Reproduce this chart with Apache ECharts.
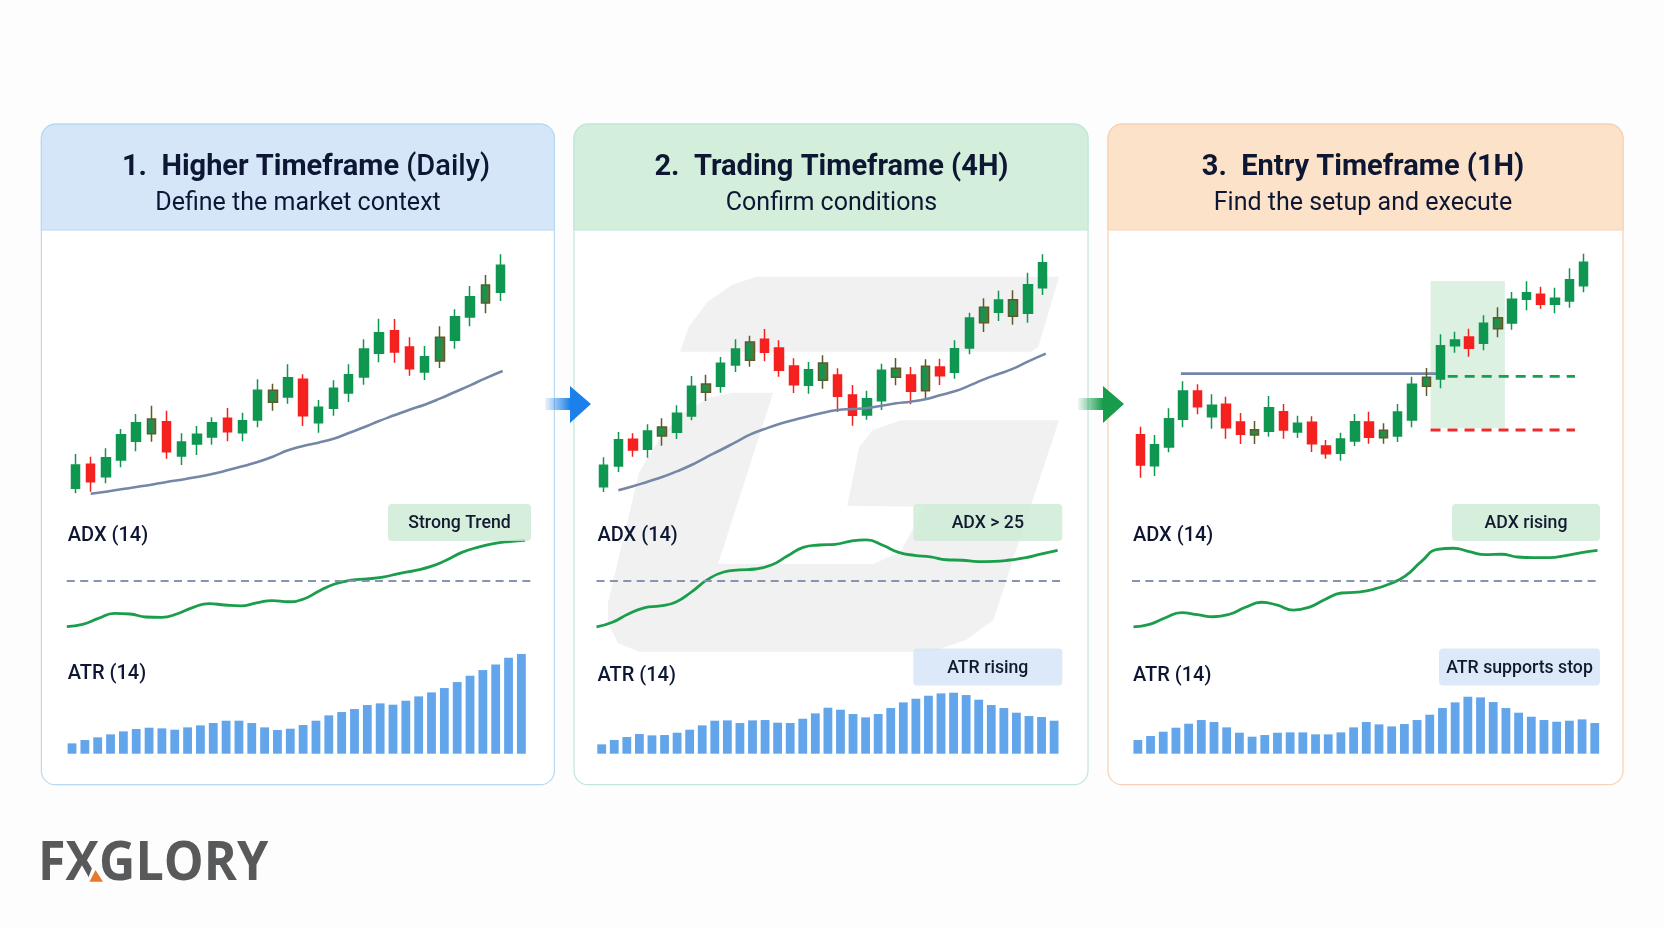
<!DOCTYPE html>
<html>
<head>
<meta charset="utf-8">
<title>Timeframes</title>
<style>
html, body { margin: 0; padding: 0; background: #fdfdfd; }
#main { width: 1664px; height: 928px; }
</style>
<script src="https://cdn.jsdelivr.net/npm/echarts@6/dist/echarts.min.js"></script>
</head>
<body>
<div id="main"></div>
<script>
// candles are [open, close, low, high]
const candles1 = [[6.5,13.5,5.0,16.8],[13.7,8.5,5.5,16.0],[10.0,15.7,8.0,18.5],[15.0,22.6,12.8,24.3],[20.6,26.2,17.6,28.8],[22.9,27.3,20.5,31.3],[26.5,17.5,15.4,29.8],[16.2,20.4,13.5,23.0],[19.8,22.7,16.5,25.2],[21.9,26.2,19.6,27.8],[27.5,23.5,20.6,30.6],[23.2,26.8,20.6,29.2],[27.0,35.9,24.8,39.2],[35.9,32.3,29.8,37.9],[33.9,39.7,31.9,43.7],[39.2,28.3,25.2,40.7],[26.2,30.8,23.2,33.0],[30.5,36.5,28.3,38.9],[35.1,40.6,32.4,43.7],[39.9,48.3,37.6,51.2],[47.0,53.2,44.3,57.4],[53.8,47.4,44.2,57.3],[48.9,42.4,40.3,51.8],[41.4,46.0,39.0,49.2],[51.8,44.7,42.6,55.1],[50.9,58.0,48.4,60.2],[57.9,64.0,55.1,67.2],[62.1,67.5,59.0,70.5],[65.3,73.4,62.7,76.7]];
const candles2 = [[7.0,13.4,5.4,15.8],[13.2,21.1,11.4,23.4],[21.2,18.0,16.0,23.0],[18.2,23.7,15.7,25.7],[24.9,22.2,19.3,27.5],[23.3,29.0,21.3,31.4],[28.2,37.1,26.9,40.2],[37.8,35.3,32.7,40.6],[37.1,44.0,35.2,45.9],[43.5,48.3,41.4,51.2],[44.9,50.4,43.0,52.3],[51.2,47.3,44.6,54.3],[48.6,41.9,40.0,50.9],[43.2,37.6,35.1,45.5],[37.4,42.1,34.9,44.4],[44.1,38.9,36.4,46.4],[40.5,34.1,29.4,42.5],[34.5,28.4,25.3,37.5],[28.5,33.4,27.1,35.8],[32.8,41.9,30.0,43.9],[39.8,42.5,37.4,45.6],[40.5,35.6,31.7,42.9],[35.8,43.1,33.1,45.2],[42.9,40.3,37.5,45.4],[41.3,48.4,39.4,50.9],[48.6,57.6,46.7,59.2],[56.2,60.8,53.4,63.5],[59.3,63.0,56.7,65.8],[63.1,58.1,55.6,65.9],[59.0,67.6,56.2,71.2],[66.7,74.2,64.5,76.7]];
const candles3 = [[22.6,13.5,9.7,25.0],[13.3,19.6,10.2,22.5],[18.9,27.4,17.3,30.5],[27.2,35.7,24.8,38.6],[35.7,31.0,28.7,37.7],[28.0,31.4,24.4,34.7],[31.7,24.7,21.4,34.0],[26.4,22.7,19.8,29.1],[22.5,24.1,19.8,26.7],[23.6,30.7,22.0,34.2],[29.5,24.0,21.4,31.8],[23.4,26.0,21.6,28.3],[26.3,19.9,17.4,28.1],[19.2,16.9,15.4,21.0],[17.0,21.3,14.8,23.2],[20.7,26.5,19.2,28.8],[26.4,21.8,19.9,29.5],[23.9,21.7,19.9,26.0],[22.2,29.4,20.4,31.8],[27.0,37.7,24.8,40.0],[37.1,39.8,34.2,42.6],[39.3,49.3,36.5,52.7],[49.3,51.0,47.2,53.5],[51.9,48.5,46.0,54.4],[50.0,56.0,47.9,58.4],[54.4,57.7,51.8,60.8],[56.1,63.2,54.1,65.4],[63.2,65.2,59.9,68.6],[64.7,61.7,60.4,67.0],[61.7,63.5,59.0,66.7],[62.7,69.1,60.7,72.5],[67.3,74.3,65.3,76.9]];

// candles where red and green run together in the picture
const mixed1 = [5, 13, 24, 27];
const mixed2 = [4, 7, 10, 15, 20, 22, 26, 28];
const mixed3 = [8, 17, 20, 25];

// moving average, the line runs a little past the last candle
const avg1 = [null,4.9,5.5,6.2,6.9,7.6,8.4,9.1,9.9,10.8,11.9,13.1,14.4,16.0,17.9,19.2,20.2,21.4,23.1,24.8,26.7,28.4,30.1,31.6,33.4,35.4,37.4,39.5,41.7];
const avg2 = [null,5.9,7.1,8.5,9.9,11.6,13.5,15.8,18.0,20.3,22.6,24.3,25.8,27.0,28.1,29.2,30.0,30.3,30.6,31.3,32.0,32.5,33.2,34.4,35.6,37.3,39.2,40.8,42.4,44.5,46.9];
const avgEnd1 = 28.14;
const avgEnd2 = 30.23;

const adx1 = [5.2,6.2,8.8,11.0,10.7,9.4,9.2,10.8,13.6,15.2,14.6,14.2,15.5,16.5,16.0,17.2,20.8,23.8,25.4,25.9,26.7,28.2,29.5,31.2,34.0,37.4,39.6,41.2,42.1,42.6];
const adx2 = [5.1,7.1,10.7,13.4,14.2,15.9,20.4,25.7,28.9,29.8,30.2,31.9,35.8,39.6,40.6,40.9,42.3,42.8,40.5,37.4,36.1,35.5,34.2,34.0,33.4,33.5,34.1,35.1,36.8,38.3];
const adx3 = [5.1,6.2,9.1,11.3,10.4,9.5,10.6,13.6,15.8,14.5,12.4,13.7,17.1,19.8,20.2,21.4,23.7,27.2,33.5,38.7,39.2,37.7,36.4,36.6,35.4,35.1,35.1,36.0,37.3,38.3];
const adxLevel = 25;

const atr1 = [3.1,4.1,4.9,5.8,6.7,7.4,7.8,7.6,7.2,7.9,8.5,9.2,9.9,9.9,9.2,7.9,7.1,7.5,8.6,9.9,11.5,12.5,13.4,14.6,15.1,14.7,15.9,17.2,18.4,19.7,21.5,23.4,25.1,26.8,28.8,29.9];
const atr2 = [2.8,4.1,5.0,5.9,5.5,5.6,6.3,7.2,8.5,9.9,10.0,9.2,10.0,10.1,9.3,9.2,10.5,12.1,13.8,13.2,11.9,10.9,11.9,13.7,15.4,16.5,17.4,18.1,18.3,17.6,16.2,14.6,13.7,12.3,11.3,11.0,9.9];
const atr3 = [4.1,5.3,6.6,7.8,9.0,10.1,9.5,7.9,6.3,5.1,5.6,6.3,6.4,6.4,5.8,5.8,6.4,7.9,9.5,8.8,8.2,8.9,10.1,11.7,13.7,15.4,17.1,16.9,15.5,13.7,12.3,11.1,10.1,9.6,9.9,10.3,9.2];

// levels on the entry chart, x in candle positions
const breakoutX = [2.84, 20.8];
const breakoutY = 40.9;
const entryX = [21.5, 30.4];
const entryY = 40.1;
const stopX = [20.3, 30.4];
const stopY = 24.0;
const zoneX = [20.3, 25.5];
const zoneY = [24.5, 68.7];

const titles = [['1.  Higher Timeframe ', '(Daily)'], ['2.  Trading Timeframe (4H)', ''], ['3.  Entry Timeframe (1H)', '']];
const subtitles = ['Define the market context', 'Confirm conditions', 'Find the setup and execute'];
const adxTags = ['Strong Trend', 'ADX > 25', 'ADX rising'];
const atrTags = ['', 'ATR rising', 'ATR supports stop'];

const FONT = 'Roboto, Inter, sans-serif';
const GREEN = '#0f9650', RED = '#f4211f';
const INK = '#0d1733';

const panels = [
    { x: 41.4, w: 513, head: '#d5e6f9', line: '#b9d8f3', titleX: 306, subX: 298,
      candle: [67.9, 440.2], adx: [66.8, 463.5, 0, 29.33], atr: [65.6, 462.2], atrLabelY: 673.5,
      adxTag: [388, 143], atrTag: null },
    { x: 574, w: 514, head: '#d3eedb', line: '#c2e6da', titleX: 831.5, subX: 831.5,
      candle: [596.4, 453.3], adx: [596.5, 465.9, 0, 29.3], atr: [595.4, 465], atrLabelY: 675.5,
      adxTag: [913.3, 149], atrTag: [913.3, 149] },
    { x: 1108, w: 515, head: '#fbe2c9', line: '#f9d1b2', titleX: 1363, subX: 1363,
      candle: [1133.1, 457.6], adx: [1132, 469, -0.09, 29.22], atr: [1131.5, 469.6], atrLabelY: 675.5,
      adxTag: [1452, 148], atrTag: [1439, 161] }
];

const PANEL_TOP = 124.2, PANEL_BOTTOM = 784.7, HEAD_BOTTOM = 230;
const CANDLE_TOP = 230, CANDLE_H = 280;
const ADX_TOP = 523.3, ADX_H = 115.4;
const ATR_TOP = 640.4, ATR_H = 113.3;

function indexLabels(list) {
    return list.map(function (v, i) { return i; });
}

function paintCandles(list, mixed) {
    return list.map(function (c, i) {
        if (mixed.indexOf(i) < 0) return c;
        return {
            value: c,
            itemStyle: {
                color: { type: 'linear', x: 0, y: 0, x2: 1, y2: 0, colorStops: [
                    { offset: 0, color: GREEN },
                    { offset: 0.45, color: GREEN },
                    { offset: 1, color: '#7d6a2c' }] },
                color0: { type: 'linear', x: 0, y: 0, x2: 1, y2: 0, colorStops: [
                    { offset: 0, color: RED },
                    { offset: 0.45, color: RED },
                    { offset: 1, color: '#7f4a28' }] },
                borderColor: '#5e5a2c',
                borderColor0: '#6b4a2a'
            }
        };
    });
}

let grids = [], xAxes = [], yAxes = [], series = [];

function addGrid(left, width, top, height, xAxis, yMax) {
    let g = grids.length;
    grids.push({ left: left, width: width, top: top, height: height, containLabel: false });
    xAxis.gridIndex = g;
    xAxes.push(xAxis);
    yAxes.push({ type: 'value', gridIndex: g, min: 0, max: yMax, show: false });
    return { x: xAxes.length - 1, y: yAxes.length - 1 };
}

function candleChart(p, list, mixed, avg, avgEnd) {
    let ax = addGrid(p.candle[0], p.candle[1], CANDLE_TOP, CANDLE_H,
        { type: 'category', data: indexLabels(list), show: false }, 84);
    // hidden value axis on the same grid, lines can sit between candles on it
    xAxes.push({ type: 'value', gridIndex: grids.length - 1, min: -0.5, max: list.length - 0.5, show: false });
    ax.level = xAxes.length - 1;
    series.push({
        type: 'candlestick', xAxisIndex: ax.x, yAxisIndex: ax.y, z: 3,
        barWidth: 9, data: paintCandles(list, mixed), silent: true,
        itemStyle: { color: GREEN, color0: RED, borderColor: GREEN, borderColor0: RED, borderWidth: 1.5 }
    });
    if (avg) {
        series.push({
            type: 'line', xAxisIndex: ax.level, yAxisIndex: ax.y, z: 4, smooth: true, showSymbol: false, silent: true,
            data: avg.map(function (v, i) { return [i === avg.length - 1 ? avgEnd : i, v]; }),
            lineStyle: { color: '#7586a6', width: 2.6 }
        });
    }
    return ax;
}

function adxChart(p, data) {
    let ax = addGrid(p.adx[0], p.adx[1], ADX_TOP, ADX_H, {
        type: 'value', min: p.adx[2], max: p.adx[3],
        axisLine: { show: true, lineStyle: { color: '#d3d8df', width: 2 } },
        axisTick: { show: false }, axisLabel: { show: false }, splitLine: { show: false }
    }, 50);
    series.push({
        type: 'line', xAxisIndex: ax.x, yAxisIndex: ax.y, z: 3, smooth: true, showSymbol: false, silent: true,
        data: data.map(function (v, i) { return [i, v]; }),
        lineStyle: { color: '#1b9e4b', width: 2.8 },
        markLine: {
            silent: true, symbol: 'none', label: { show: false }, animation: false,
            lineStyle: { color: '#8495b1', width: 2, type: [8, 5.4] },
            data: [{ yAxis: adxLevel }]
        }
    });
}

function atrChart(p, data) {
    let ax = addGrid(p.atr[0], p.atr[1], ATR_TOP, ATR_H, { type: 'category', data: indexLabels(data), show: false }, 34);
    series.push({
        type: 'bar', xAxisIndex: ax.x, yAxisIndex: ax.y, barWidth: 8.8, data: data, silent: true,
        itemStyle: { color: '#62a5ea' }
    });
}

candleChart(panels[0], candles1, mixed1, avg1, avgEnd1);
candleChart(panels[1], candles2, mixed2, avg2, avgEnd2);
let entryAx = candleChart(panels[2], candles3, mixed3, null);

series.push({
    type: 'line', xAxisIndex: entryAx.level, yAxisIndex: entryAx.y, z: 1, showSymbol: false, silent: true,
    data: [], markArea: {
        silent: true, animation: false,
        itemStyle: { color: '#dcf1e2' },
        data: [[{ coord: [zoneX[0], zoneY[0]] }, { coord: [zoneX[1], zoneY[1]] }]]
    }
});
series.push({
    type: 'line', xAxisIndex: entryAx.level, yAxisIndex: entryAx.y, z: 2, showSymbol: false, silent: true,
    data: [[breakoutX[0], breakoutY], [breakoutX[1], breakoutY]],
    lineStyle: { color: '#7485a5', width: 2.6 }
});
series.push({
    type: 'line', xAxisIndex: entryAx.level, yAxisIndex: entryAx.y, z: 2, showSymbol: false, silent: true,
    data: [[entryX[0], entryY], [entryX[1], entryY]],
    lineStyle: { color: '#16a04c', width: 2.8, type: [10, 7] }
});
series.push({
    type: 'line', xAxisIndex: entryAx.level, yAxisIndex: entryAx.y, z: 2, showSymbol: false, silent: true,
    data: [[stopX[0], stopY], [stopX[1], stopY]],
    lineStyle: { color: '#ee2a2a', width: 2.8, type: [10, 7] }
});

[adx1, adx2, adx3].forEach(function (d, i) { adxChart(panels[i], d); });
[atr1, atr2, atr3].forEach(function (d, i) { atrChart(panels[i], d); });

// panels, labels and logo
let gfx = [];

function text(str, x, y, font, color, align) {
    gfx.push({
        type: 'text', silent: true, z: 5,
        style: { text: str, x: x, y: y, font: font, fill: color, textAlign: align || 'left', textVerticalAlign: 'middle', align: align || 'left', verticalAlign: 'middle' }
    });
}

function tag(box, y, str, fill) {
    gfx.push({ type: 'rect', silent: true, z: 4, shape: { x: box[0], y: y, width: box[1], height: 37, r: 4 }, style: { fill: fill, opacity: 0.82 } });
    text(str, box[0] + box[1] / 2, y + 20, '500 17.7px ' + FONT, '#111a2e', 'center');
}

panels.forEach(function (p, i) {
    gfx.push({
        type: 'rect', silent: true, z: 1,
        shape: { x: p.x, y: PANEL_TOP, width: p.w, height: PANEL_BOTTOM - PANEL_TOP, r: 14 },
        style: { fill: '#ffffff', stroke: p.line, lineWidth: 1.2 }
    });
    gfx.push({
        type: 'rect', silent: true, z: 2,
        shape: { x: p.x, y: PANEL_TOP, width: p.w, height: HEAD_BOTTOM - PANEL_TOP, r: [14, 14, 0, 0] },
        style: { fill: p.head, stroke: p.line, lineWidth: 1.2 }
    });
    gfx.push({
        type: 'text', silent: true, z: 5,
        style: {
            text: '{b|' + titles[i][0] + '}' + (titles[i][1] ? '{m|' + titles[i][1] + '}' : ''),
            x: p.titleX, y: 168, textAlign: 'center', textVerticalAlign: 'middle', align: 'center', verticalAlign: 'middle',
            rich: {
                b: { font: '700 29px ' + FONT, fill: INK },
                m: { font: '500 29px ' + FONT, fill: INK }
            }
        }
    });
    text(subtitles[i], p.subX, 204, '400 25px ' + FONT, INK, 'center');
    text('ADX (14)', p.adx[0] + 1, 535.5, '500 20px ' + FONT, INK);
    text('ATR (14)', p.adx[0] + 1, p.atrLabelY, '500 20px ' + FONT, INK);
    tag(p.adxTag, 504, adxTags[i], '#cdebd4');
    if (p.atrTag) tag(p.atrTag, 648.5, atrTags[i], '#d3e4f8');
});

// faint watermark behind the middle panel
const wmFill = '#f1f1f1';
gfx.push({ type: 'polygon', silent: true, z: 3, style: { fill: wmFill }, shape: { points: [
    [680.2,351.7],[688.8,326.7],[707.7,301.7],[731.8,285],[756,276.7],[1059,276.7],[1038.3,346.7],[1031.4,351.7]] } });
gfx.push({ type: 'polygon', silent: true, z: 3, style: { fill: wmFill }, shape: { points: [
    [773.2,392.7],[718,564],[873,564],[900.6,551.7],[924.7,506.7],[847.2,505.7],[859.3,446.7],[873,430],[900.6,420.3],[1059,420.3],
    [1014,556.7],[993.5,620],[966,640],[931.6,651.7],[638.9,651.7],[618.2,643.3],[607.9,623.3],[607.9,603.3],[638.9,473],[663,433],[683.6,413.3],[707.7,398.3],[731.8,392.7]] } });

function arrow(x0, color, fade) {
    gfx.push({ type: 'polygon', silent: true, z: 6, shape: { points: [
        [x0, 398], [x0 + 25, 398], [x0 + 25, 386], [x0 + 46, 404], [x0 + 25, 423], [x0 + 25, 410], [x0, 410]] },
        style: { fill: { type: 'linear', x: 0, y: 0, x2: 1, y2: 0, colorStops: [
            { offset: 0, color: fade }, { offset: 0.55, color: color }, { offset: 1, color: color }] } } });
}
arrow(545, '#1c80ea', 'rgba(28,128,234,0.08)');
arrow(1078, '#169c4a', 'rgba(22,156,74,0.08)');

gfx.push({
    type: 'text', silent: true, z: 5, x: 38, y: 865, scaleX: 0.93,
    style: { text: 'FXGLORY', x: 0, y: 0, font: '700 54px "Open Sans", sans-serif', fill: '#58595b', textVerticalAlign: 'middle', verticalAlign: 'middle' }
});
// the X has its lower right leg cut away and replaced by an orange wedge
gfx.push({ type: 'polygon', silent: true, z: 6, shape: { points: [[86,884],[92,868],[101,868],[105,884]] }, style: { fill: '#fdfdfd' } });
gfx.push({ type: 'polygon', silent: true, z: 7, shape: { points: [[89.5,881.7],[95.5,870],[103,881.7]] }, style: { fill: '#e9792a' } });

let chart = echarts.init(document.getElementById('main'), null, { renderer: 'canvas' });
chart.setOption({
    animation: false,
    backgroundColor: '#fdfdfd',
    tooltip: { show: false },
    legend: { show: false },
    graphic: { elements: gfx },
    grid: grids,
    xAxis: xAxes,
    yAxis: yAxes,
    series: series
});
</script>
</body>
</html>
